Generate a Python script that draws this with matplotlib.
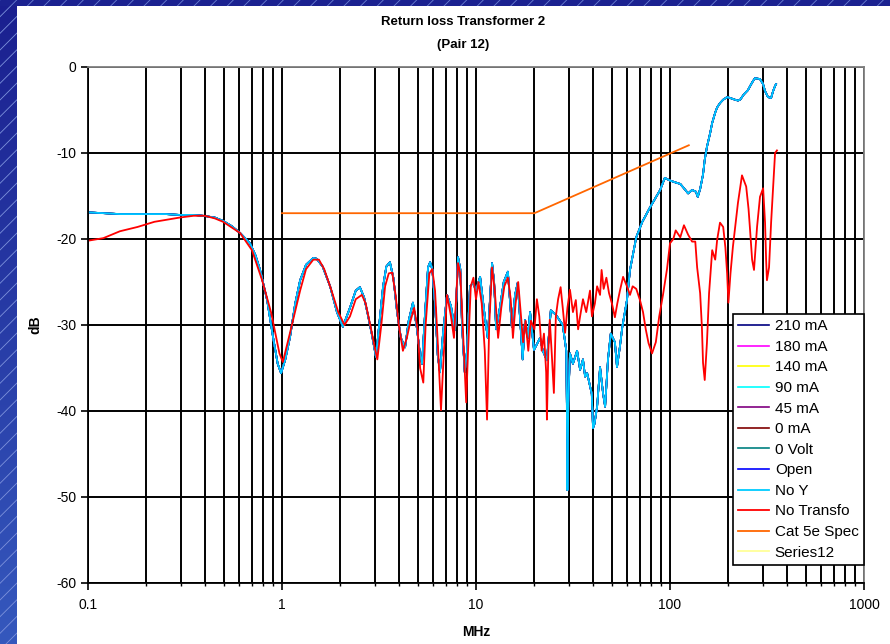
import matplotlib
matplotlib.use("Agg")
import matplotlib.pyplot as plt
import matplotlib.ticker as ticker
from matplotlib.patches import Rectangle
import numpy as np

plt.rcParams['font.family'] = ['Liberation Sans', 'DejaVu Sans']
plt.rcParams['axes.unicode_minus'] = False
plt.rcParams['hatch.linewidth'] = 0.6

# return loss, transformer removed from the Y path (MHz, dB)
noy_mhz = [0.1, 0.12, 0.146, 0.18, 0.209, 0.25, 0.298, 0.35, 0.392, 0.45, 0.497, 0.55,
           0.608, 0.684, 0.73, 0.771, 0.838, 0.899, 0.95, 0.989, 1.04, 1.10, 1.17, 1.24,
           1.33, 1.45, 1.51, 1.62, 1.77, 1.92, 2.06, 2.24, 2.40, 2.52, 2.65, 2.77, 2.90,
           3.05, 3.17, 3.32, 3.45, 3.60, 3.75, 3.92, 4.1, 4.31, 4.5, 4.73, 4.96, 5.15,
           5.27, 5.45, 5.66, 5.80, 5.95, 6.15, 6.35, 6.52, 6.76, 7.09, 7.43, 7.80, 8.08,
           8.3, 8.47, 8.75, 8.99, 9.31, 9.66, 10.0, 10.5, 11.1, 11.5, 12.1, 12.4, 12.7,
           13.3, 13.9, 14.6, 15.3, 15.9, 16.4, 16.9, 17.4, 17.9, 18.5, 19.0, 19.9, 21.4,
           22.1, 23.2, 24.3, 25.8, 28.0, 29.2, 29.4, 29.6, 29.9, 30.5, 31.6, 33.2, 34.4,
           35.6, 36.5, 37.4, 39.5, 40.1, 40.8, 42.1, 43.6, 45.2, 46.3, 47.9, 49.5, 52.0,
           53.3, 55.2, 56.8, 60.0, 62.2, 67.0, 72.0, 79.0, 89.0, 94.0, 100, 106, 113, 117,
           124, 130, 136, 139, 143, 148, 151, 155, 161, 165, 171, 175, 181, 188, 197, 204,
           216, 224, 230, 240, 252, 265, 274, 291, 302, 309, 320, 332, 340, 348, 352]
noy_db = [-16.9, -17.0, -17.1, -17.1, -17.1, -17.1, -17.2, -17.2, -17.3, -17.5, -17.9, -18.5,
          -19.3, -20.5, -21.9, -23.6, -27.1, -31.4, -34.5, -35.6, -34.0, -31.4, -27.5, -24.8,
          -23.0, -22.2, -22.3, -23.2, -25.5, -28.5, -30.2, -28.0, -26.0, -25.6, -26.8, -28.8, -31.0,
          -33.7, -30.0, -25.5, -23.2, -22.7, -24.5, -28.5, -31.5, -32.6, -29.5, -27.4, -30.4, -33.5,
          -34.5, -29.0, -23.3, -22.7, -23.5, -27.5, -33.5, -35.5, -31.0, -26.5, -27.8, -30.6, -22.1,
          -23.5, -30.0, -35.5, -33.0, -25.5, -25.1, -26.0, -24.4, -29.0, -31.5, -22.8, -25.0, -30.5,
          -27.9, -25.0, -23.8, -30.2, -26.5, -25.1, -29.5, -34.0, -29.4, -31.5, -28.5, -32.9, -31.5,
          -33.0, -34.1, -28.3, -28.8, -30.0, -33.0, -39.5, -49.2, -39.0, -33.3, -34.5, -33.0, -35.2,
          -34.0, -36.0, -35.6, -38.0, -42.0, -41.5, -39.5, -34.9, -38.0, -39.5, -34.0, -31.0, -32.0,
          -34.9, -32.5, -30.2, -27.1, -23.6, -19.8, -18.0, -16.3, -14.3, -12.9, -13.2, -13.4, -13.6, -14.0,
          -14.7, -14.3, -14.5, -15.1, -14.2, -12.5, -10.8, -9.3, -7.7, -6.5, -5.3, -4.7, -4.2, -3.8, -3.5, -3.6,
          -3.8, -3.9, -3.8, -3.2, -2.7, -1.8, -1.3, -1.4, -2.0, -2.8, -3.5, -3.6, -2.8, -2.2, -2.0]

# return loss without transformer (MHz, dB)
notr_mhz = [0.1, 0.12, 0.146, 0.18, 0.22, 0.298, 0.35, 0.40, 0.45, 0.497, 0.608, 0.70,
            0.79, 0.88, 0.97, 1.01, 1.10, 1.24, 1.33, 1.45, 1.55, 1.65, 1.80, 1.95, 2.10,
            2.24, 2.40, 2.58, 2.70, 2.85, 3.0, 3.10, 3.25, 3.40, 3.55, 3.70, 3.85, 4.0,
            4.2, 4.4, 4.6, 4.8, 5.0, 5.15, 5.35, 5.50, 5.75, 5.95, 6.15, 6.35, 6.6, 6.8,
            7.09, 7.43, 7.70, 8.08, 8.3, 8.5, 8.9, 9.1, 9.4, 9.7, 10.0, 10.3, 10.7, 11.1,
            11.4, 11.7, 12.1, 12.5, 13.0, 13.5, 14.0, 14.6, 15.1, 15.5, 16.0, 16.5, 17.0,
            17.5, 18.0, 18.6, 19.2, 20.0, 20.6, 21.2, 21.8, 22.4, 23.0, 23.2, 23.6, 24.0,
            24.6, 25.2, 25.8, 26.5, 27.3, 28.0, 28.8, 29.6, 30.5, 31.6, 32.7, 33.6, 34.4,
            35.6, 37.0, 38.7, 39.6, 41.0, 42.1, 43.6, 44.4, 45.5, 47.0, 48.5, 50.2, 52.0,
            53.5, 55.2, 57.3, 60.0, 62.2, 64.2, 67.0, 70.0, 72.6, 75.0, 77.5, 80.8, 84.5,
            88.0, 92.0, 96.5, 100, 104, 107, 113, 118, 124, 130, 135, 138, 143, 146, 148,
            151, 155, 159, 165, 171, 175, 181, 188, 193, 197, 200, 205, 211, 224, 235, 247,
            254, 258, 265, 271, 281, 291, 302, 309, 313, 316, 324, 332, 340, 348, 356]
notr_db = [-20.2, -19.9, -19.1, -18.6, -18.0, -17.5, -17.3, -17.3, -17.6, -18.0, -19.3, -21.3,
           -24.8, -28.6, -33.3, -34.3, -30.9, -26.0, -23.5, -22.4, -22.4, -23.5, -26.0, -28.5, -30.0,
           -29.0, -27.0, -26.5, -27.5, -30.0, -32.5, -34.0, -30.0, -25.5, -24.0, -23.9, -26.5, -30.0,
           -33.0, -31.5, -29.5, -28.0, -30.5, -35.0, -36.7, -30.0, -24.0, -23.5, -26.0, -32.0, -39.9, -34.0,
           -26.5, -29.0, -31.5, -22.8, -24.0, -29.0, -39.0, -33.0, -25.5, -24.5, -27.0, -25.0, -27.5, -33.0,
           -41.0, -30.0, -23.3, -26.0, -31.5, -28.0, -25.5, -24.5, -27.0, -31.5, -27.5, -25.0, -28.5,
           -32.0, -29.5, -33.0, -29.5, -30.5, -27.0, -29.0, -33.0, -31.0, -35.5, -41.0, -33.0, -29.4,
           -33.5, -37.9, -29.0, -27.0, -25.6, -28.0, -30.9, -28.0, -25.9, -28.5, -27.1, -30.5, -29.0,
           -27.0, -28.5, -26.0, -29.0, -27.5, -25.5, -26.5, -23.6, -25.8, -24.5, -26.3, -27.5, -29.1,
           -27.5, -26.0, -24.4, -25.5, -26.5, -25.5, -25.8, -27.1, -28.5, -30.5, -32.1, -33.3, -32.0,
           -29.0, -26.5, -23.5, -20.5, -20.0, -19.0, -19.8, -18.4, -19.5, -20.3, -20.3, -23.3, -26.3, -30.2, -34.4,
           -36.4, -32.1, -26.3, -21.3, -22.4, -20.1, -18.1, -18.6, -21.0, -24.0, -27.4, -24.0, -20.9, -15.8, -12.6, -13.9,
           -16.5, -18.6, -22.4, -23.6, -18.6, -15.1, -14.1, -18.1, -22.5, -24.8, -23.3, -18.1, -13.9, -10.0, -9.7]

# Cat 5e return loss limit
spec_mhz = [1, 20, 125]
spec_db = [-17.0, -17.0, -9.1]

# bias-current series, they follow the No Y trace
bias_labels = ["210 mA", "180 mA", "140 mA", "90 mA", "45 mA", "0 mA", "0 Volt", "Open"]
bias_colors = ["#000080", "#FF00FF", "#FFFF00", "#00FFFF", "#800080", "#800000", "#008080", "#0000FF"]

y_ticks = [0, -10, -20, -30, -40, -50, -60]

fig = plt.figure(figsize=(8.9, 6.44), dpi=100)
fig.patch.set_facecolor("white")

# slide background strips along the top and left edge
strip = fig.add_axes([0, 0, 17 / 890, 1])
grad = np.linspace(0, 1, 256).reshape(-1, 1)
strip.imshow(grad, aspect="auto", cmap=matplotlib.colors.LinearSegmentedColormap.from_list(
    "bg", ["#1a1f8f", "#3558bd"]), extent=[0, 1, 0, 1])
strip.add_patch(Rectangle((0, 0), 1, 1, fill=False, hatch="//", edgecolor="#7d92dc", lw=0))
strip.set_axis_off()
top = fig.add_axes([0, 1 - 6 / 644, 1, 6 / 644])
top.add_patch(Rectangle((0, 0), 1, 1, facecolor="#1b2290", hatch="//", edgecolor="#6a7fd0", lw=0))
top.set_xlim(0, 1)
top.set_ylim(0, 1)
top.set_axis_off()

ax = fig.add_axes([88 / 890, 61 / 644, 776 / 890, 516 / 644])
ax.set_xscale("log")
ax.set_xlim(0.1, 1000)
ax.set_ylim(-60, 0)

for lab, col in zip(bias_labels, bias_colors):
    ax.plot(noy_mhz, noy_db, color=col, lw=1.2, label=lab)
ax.plot(noy_mhz, noy_db, color="#00CCFF", lw=1.3, label="No Y")
ax.plot(notr_mhz, notr_db, color="#FF0000", lw=1.3, label="No Transfo")
ax.plot(spec_mhz, spec_db, color="#FF6600", lw=1.3, label="Cat 5e Spec")
ax.plot([], [], color="#FFFF99", lw=1.3, label="Series12")

ax.set_yticks(y_ticks)
ax.xaxis.set_major_formatter(ticker.FuncFormatter(lambda v, p: f"{v:g}"))
ax.xaxis.set_minor_formatter(ticker.NullFormatter())
ax.grid(True, which="both", axis="x", color="black", lw=1.4)
ax.grid(True, which="major", axis="y", color="black", lw=1.4)
ax.set_axisbelow(True)
ax.tick_params(axis="both", which="major", direction="out", length=5, width=1.2,
               labelsize=10, color="black")
ax.tick_params(axis="x", which="minor", direction="out", length=2, width=1.0)
ax.tick_params(axis="x", pad=6)
for s in ["left", "bottom"]:
    ax.spines[s].set_color("black")
    ax.spines[s].set_linewidth(1.3)
for s in ["top", "right"]:
    ax.spines[s].set_color("#808080")
    ax.spines[s].set_linewidth(1.3)

leg = ax.legend(loc="lower right", bbox_to_anchor=(1.0, 0.035), fontsize=11,
                frameon=True, fancybox=False, framealpha=1, edgecolor="black",
                handlelength=2.0, handletextpad=0.4, labelspacing=0.43,
                borderpad=0.35, borderaxespad=0)
leg.get_frame().set_linewidth(1.2)

fig.text(463 / 890, 1 - 22 / 644, "Return loss Transformer 2", ha="center", va="center",
         fontsize=9.5, fontweight="bold")
fig.text(463 / 890, 1 - 45 / 644, "(Pair 12)", ha="center", va="center",
         fontsize=9.5, fontweight="bold")
fig.text(35 / 890, 1 - 325 / 644, "dB", rotation=90, ha="center", va="center",
         fontsize=10, fontweight="bold")
fig.text(476 / 890, 1 - 632 / 644, "MHz", ha="center", va="center",
         fontsize=10, fontweight="bold")

fig.savefig("out.png", dpi=100)
